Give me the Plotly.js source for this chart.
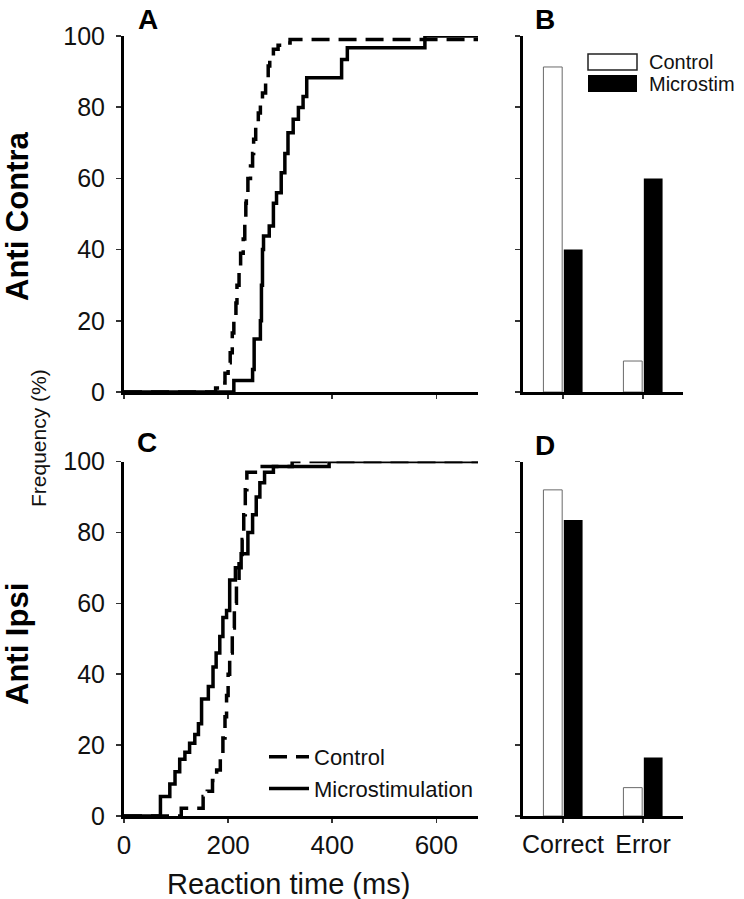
<!DOCTYPE html>
<html>
<head>
<meta charset="utf-8">
<script src="https://cdn.plot.ly/plotly-3.0.1.min.js"></script>
<style>html,body{margin:0;padding:0;background:#fff;}#chart{width:744px;height:899px;}</style>
</head>
<body>
<div id="chart"></div>
<script>
// ---- Panel A (Anti Contra) cumulative reaction-time distributions ----
var contraControlRT   = [0, 176, 187, 194, 200, 204, 208, 211, 215, 217, 221, 224, 229, 232, 234, 235, 238, 243, 247, 249, 253, 258, 262, 266, 272, 277, 280, 287, 296, 306, 319, 680];
var contraControlFreq = [0, 1.1, 2.5, 5.3, 8.2, 11, 16.6, 20, 25, 30, 34.4, 39, 43, 48.5, 53, 56, 60, 63.5, 67, 71, 75, 78.4, 81, 84, 88, 91.6, 94.4, 96.3, 97.4, 98, 99, 99];
var contraStimRT      = [0, 211, 247, 250, 262, 264, 266, 268, 270, 279, 287, 293, 302, 309, 315, 325, 335, 344, 351, 418, 429, 578, 680];
var contraStimFreq    = [0, 3.2, 6.3, 14.9, 20, 30, 40, 43.8, 43.8, 46.6, 53, 56, 61.6, 67, 72.8, 76.6, 79.9, 83, 88.3, 93.4, 96.7, 100, 100];

// ---- Panel C (Anti Ipsi) cumulative reaction-time distributions ----
var ipsiControlRT     = [0, 110, 152, 160, 170, 178, 185, 190, 194, 197, 200, 203, 208, 212, 216, 221, 227, 230, 233, 236, 261, 323, 680];
var ipsiControlFreq   = [0, 2.2, 5.5, 7, 10, 13, 17, 22, 28, 34, 40, 46, 53, 60, 66, 72, 78, 85, 92, 97, 98.6, 100, 100];
var ipsiStimRT        = [0, 70, 88, 98, 107, 117, 126, 136, 143, 149, 162, 171, 177, 184, 190, 197, 203, 214, 225, 238, 247, 254, 261, 270, 287, 394, 680];
var ipsiStimFreq      = [0, 5.5, 9, 12.5, 16, 18, 20.5, 23, 26, 33, 36.5, 42, 46, 50.6, 56, 58, 66.6, 70, 74, 80, 85, 90, 94, 97, 98.6, 100, 100];

// ---- Panels B and D: outcome frequencies ----
var outcomeCategories  = ["Correct", "Error"];
var contraControlOutcome = [91.3, 8.7];
var contraStimOutcome    = [40, 60];
var ipsiControlOutcome   = [92, 8];
var ipsiStimOutcome      = [83.5, 16.5];

// ---- tick labels ----
var rtTicks   = [0, 200, 400, 600];
var freqTicks = [0, 20, 40, 60, 80, 100];
var seriesNames = ["Control", "Microstimulation"];

var W = 744, H = 899;
function px(x){ return x / W; }
function py(y){ return 1 - y / H; }

var FONT = "Liberation Sans, Arial, sans-serif";
var dashed = {color: "black", width: 3.5, dash: "18px,9px", shape: "hv"};
var solid  = {color: "black", width: 3.5, shape: "hv"};

var traces = [
  {x: contraControlRT, y: contraControlFreq, xaxis: "x", yaxis: "y", type: "scatter", mode: "lines", line: dashed, name: seriesNames[0], showlegend: false},
  {x: contraStimRT, y: contraStimFreq, xaxis: "x", yaxis: "y", type: "scatter", mode: "lines", line: solid, name: seriesNames[1], showlegend: false},
  {x: ipsiControlRT, y: ipsiControlFreq, xaxis: "x3", yaxis: "y3", type: "scatter", mode: "lines", line: dashed, name: seriesNames[0], showlegend: true},
  {x: ipsiStimRT, y: ipsiStimFreq, xaxis: "x3", yaxis: "y3", type: "scatter", mode: "lines", line: solid, name: seriesNames[1], showlegend: true},
  {x: outcomeCategories, y: contraControlOutcome, xaxis: "x2", yaxis: "y2", type: "bar", name: "Control", showlegend: false,
   marker: {color: "white", line: {color: "#6a6a6a", width: 1}}},
  {x: outcomeCategories, y: contraStimOutcome, xaxis: "x2", yaxis: "y2", type: "bar", name: "Microstim", showlegend: false,
   marker: {color: "black", line: {color: "black", width: 0}}},
  {x: outcomeCategories, y: ipsiControlOutcome, xaxis: "x4", yaxis: "y4", type: "bar", name: "Control", showlegend: false,
   marker: {color: "white", line: {color: "#6a6a6a", width: 1}}},
  {x: outcomeCategories, y: ipsiStimOutcome, xaxis: "x4", yaxis: "y4", type: "bar", name: "Microstim", showlegend: false,
   marker: {color: "black", line: {color: "black", width: 0}}}
];

var leftX = [px(124), px(478)];
var rightX = [px(523), px(683)];
var topY = [py(392), py(36)];
var botY = [py(816), py(461.5)];

function axBase(extra){
  var a = {showline: true, linewidth: 3, linecolor: "black", zeroline: false, showgrid: false,
           ticks: "outside", ticklen: 5, tickwidth: 1.5, tickcolor: "#333", fixedrange: true,
           tickfont: {family: FONT, size: 25, color: "#111"}};
  for (var k in extra) a[k] = extra[k];
  return a;
}

function label(text, x, y, size, extra){
  var a = {text: text, xref: "paper", yref: "paper", x: px(x), y: py(y), xanchor: "center", yanchor: "middle",
           showarrow: false, font: {family: FONT, size: size, color: "#111"}};
  for (var k in extra) a[k] = extra[k];
  return a;
}

var layout = {
  width: W, height: H,
  margin: {l: 0, r: 0, t: 0, b: 0, pad: 0},
  paper_bgcolor: "white", plot_bgcolor: "white",
  font: {family: FONT, color: "#111"},
  barmode: "group", bargap: 0.49, bargroupgap: 0.08,
  showlegend: true,
  legend: {x: px(264), y: py(736), xanchor: "left", yanchor: "top", bgcolor: "rgba(0,0,0,0)",
           borderwidth: 0, font: {family: FONT, size: 22, color: "#111"}, tracegroupgap: 0, itemwidth: 40},
  xaxis:  axBase({domain: leftX, anchor: "y", range: [0, 680], tickvals: rtTicks, showticklabels: false, ticklen: 4}),
  yaxis:  axBase({domain: topY, anchor: "x", range: [0, 100], tickvals: freqTicks, ticklabelstandoff: 6}),
  xaxis2: axBase({domain: rightX, anchor: "y2", type: "category", range: [-0.5, 1.5], showticklabels: false, ticklen: 4}),
  yaxis2: axBase({domain: topY, anchor: "x2", range: [0, 100], tickvals: freqTicks, showticklabels: false}),
  xaxis3: axBase({domain: leftX, anchor: "y3", range: [0, 680], tickvals: rtTicks, ticklen: 4,
                  tickfont: {family: FONT, size: 26, color: "#111"}, ticklabelstandoff: 0}),
  yaxis3: axBase({domain: botY, anchor: "x3", range: [0, 100], tickvals: freqTicks, ticklabelstandoff: 6}),
  xaxis4: axBase({domain: rightX, anchor: "y4", type: "category", range: [-0.5, 1.5], ticklen: 4,
                  tickfont: {family: FONT, size: 25, color: "#111"}, ticklabelstandoff: 0}),
  yaxis4: axBase({domain: botY, anchor: "x4", range: [0, 100], tickvals: freqTicks, showticklabels: false}),
  shapes: [
    {type: "rect", xref: "paper", yref: "paper", x0: px(588), x1: px(637), y0: py(70), y1: py(54),
     fillcolor: "white", line: {color: "#222", width: 1.5}},
    {type: "rect", xref: "paper", yref: "paper", x0: px(588), x1: px(637), y0: py(92), y1: py(75),
     fillcolor: "black", line: {color: "black", width: 0}}
  ],
  annotations: [
    label("<b>A</b>", 148, 20, 28, {font: {family: FONT, size: 28, color: "#000"}}),
    label("<b>B</b>", 545, 20, 28, {font: {family: FONT, size: 28, color: "#000"}}),
    label("<b>C</b>", 147, 443, 28, {font: {family: FONT, size: 28, color: "#000"}}),
    label("<b>D</b>", 545, 445, 28, {font: {family: FONT, size: 28, color: "#000"}}),
    label("Control", 647, 62, 20, {xanchor: "left"}),
    label("Microstim", 647, 84, 20, {xanchor: "left"}),
    label("Reaction time (ms)", 288, 884, 29),
    label("Frequency (%)", 38, 438, 21, {textangle: -90}),
    label("<b>Anti Contra</b>", 17, 216, 31, {textangle: -90, font: {family: FONT, size: 31, color: "#000"}}),
    label("<b>Anti Ipsi</b>", 17, 644, 31, {textangle: -90, font: {family: FONT, size: 31, color: "#000"}})
  ]
};

Plotly.newPlot("chart", traces, layout, {staticPlot: true, displayModeBar: false});
</script>
</body>
</html>
